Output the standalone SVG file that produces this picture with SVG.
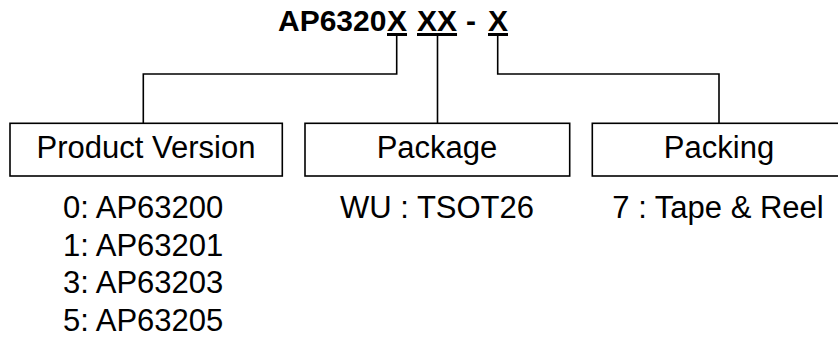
<svg xmlns="http://www.w3.org/2000/svg" width="838" height="338" viewBox="0 0 838 338">
  <style>
    .box { fill: #ffffff; stroke: #000000; stroke-width: 1.6; }
    .lbl { font-family: "Liberation Sans", Arial, sans-serif; font-size: 31px; fill: #000000; }
    .title { font-family: "Liberation Sans", Arial, sans-serif; font-size: 30px; font-weight: bold; fill: #000000; }
    .conn { fill: none; stroke: #000000; stroke-width: 1.6; }
  </style>
  <rect width="838" height="338" fill="#ffffff"/>
  <g id="title">
    <text class="title" y="31"><tspan x="278">AP6320</tspan><tspan x="387" text-decoration="underline">X</tspan><tspan x="417" text-decoration="underline">XX</tspan><tspan x="466">-</tspan><tspan x="488" text-decoration="underline">X</tspan></text>
  </g>
  <g id="connectors">
    <path class="conn" d="M396.7 35 V74 H143.3 V123"/>
    <path class="conn" d="M437.5 35 V123"/>
    <path class="conn" d="M497.7 35 V74 H719 V123"/>
  </g>
  <g id="product-version">
    <rect class="box" x="10" y="123.3" width="272.3" height="52.7"/>
    <text class="lbl" x="146" y="158" text-anchor="middle">Product Version</text>
    <text class="lbl" x="63" y="218">0: AP63200</text>
    <text class="lbl" x="63" y="255.7">1: AP63201</text>
    <text class="lbl" x="63" y="293.3">3: AP63203</text>
    <text class="lbl" x="63" y="331">5: AP63205</text>
  </g>
  <g id="package">
    <rect class="box" x="305" y="123.3" width="264.7" height="52.7"/>
    <text class="lbl" x="437" y="158" text-anchor="middle">Package</text>
    <text class="lbl" x="437" y="218" text-anchor="middle">WU : TSOT26</text>
  </g>
  <g id="packing">
    <rect class="box" x="592.3" y="123.3" width="260" height="52.7"/>
    <text class="lbl" x="719" y="158" text-anchor="middle">Packing</text>
    <text class="lbl" x="718" y="218" text-anchor="middle">7 : Tape &amp; Reel</text>
  </g>
</svg>
